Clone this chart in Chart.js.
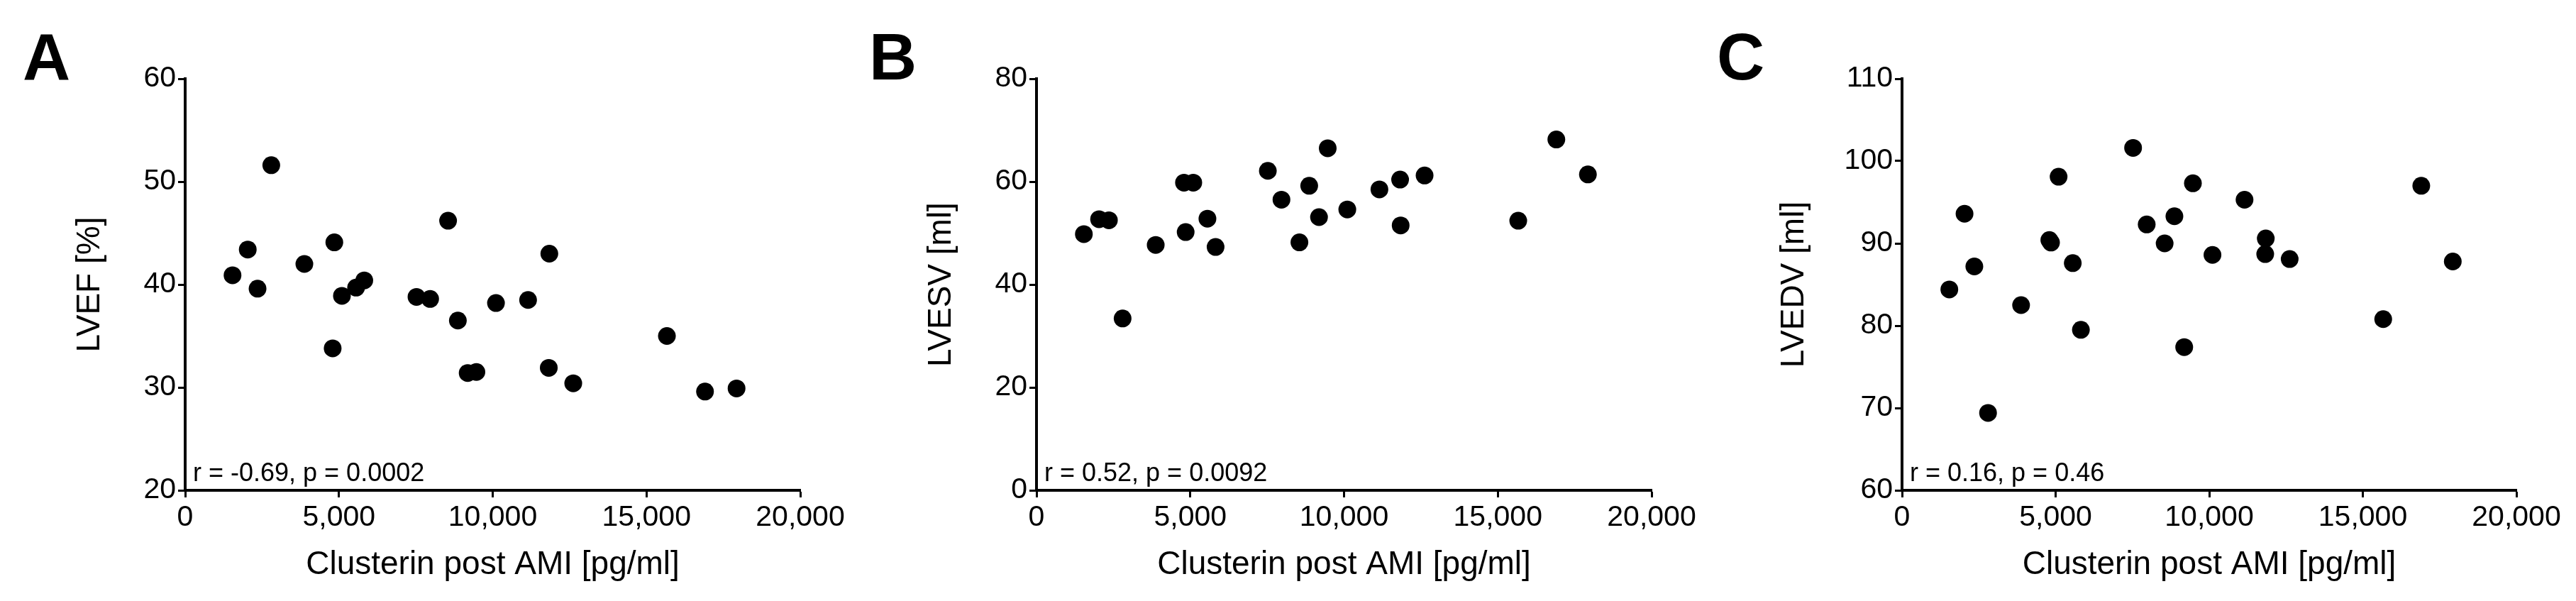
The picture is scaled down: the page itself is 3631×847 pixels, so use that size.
<!DOCTYPE html>
<html>
<head>
<meta charset="utf-8">
<script src="https://cdn.jsdelivr.net/npm/chart.js@4/dist/chart.umd.min.js"></script>
<style>
  html, body { margin: 0; padding: 0; background: #fff; }
  body { width: 3631px; height: 847px; position: relative; overflow: hidden; }
  canvas { position: absolute; top: 0; }
</style>
</head>
<body>
<canvas id="chartA" width="1200" height="847" style="left:0px"></canvas>
<canvas id="chartB" width="1200" height="847" style="left:1200px"></canvas>
<canvas id="chartC" width="1211" height="847" style="left:2420px"></canvas>
<script>
// clusterin post AMI [pg/ml], same patients in every panel
const clusterin = [1540, 2035, 2354, 2800, 3876, 4796, 4850, 5097, 5558, 5823,
  7522, 7965, 8549, 8867, 9186, 9469, 10106, 11150, 11823, 11841, 12619, 15664, 16903, 17929];

const lvef = [40.9, 43.4, 39.6, 51.6, 42.0, 33.8, 44.1, 38.9, 39.7, 40.4,
  38.8, 38.6, 46.2, 36.5, 31.4, 31.5, 38.2, 38.5, 31.9, 43.0, 30.4, 35.0, 29.6, 29.9];

const lvesv = [49.8, 52.7, 52.5, 33.4, 47.7, 59.8, 50.2, 59.8, 52.8, 47.3,
  62.1, 56.5, 48.2, 59.2, 53.1, 66.5, 54.6, 58.5, 60.4, 51.5, 61.2, 52.4, 68.2, 61.4];

const lvedv = [84.4, 93.6, 87.2, 69.4, 82.5, 90.4, 90.1, 98.1, 87.6, 79.5,
  101.6, 92.3, 90.0, 93.3, 77.4, 97.3, 88.6, 95.3, 88.7, 90.6, 88.1, 80.8, 97.0, 87.8];

const xTickLabels = ["0", "5,000", "10,000", "15,000", "20,000"];
const panelLetters = ["A", "B", "C"];
const yTitles = ["LVEF [%]", "LVESV [ml]", "LVEDV [ml]"];
const statTexts = ["r = -0.69, p = 0.0002", "r = 0.52, p = 0.0092", "r = 0.16, p = 0.46"];
const yRanges = [[20, 60, 10], [0, 80, 20], [60, 110, 10]];

const FONT = "'Liberation Sans', Arial, Helvetica, sans-serif";

// panel letter + r/p annotation
const annotate = {
  id: "annotate",
  afterDraw(chart, args, opts) {
    const ctx = chart.ctx;
    const area = chart.chartArea;
    ctx.save();
    ctx.fillStyle = "#000";
    ctx.textAlign = "left";
    ctx.textBaseline = "alphabetic";
    ctx.font = "36px " + FONT;
    ctx.fillText(opts.stat, area.left + 11, area.bottom - 13);
    ctx.font = "bold 93px " + FONT;
    ctx.fillText(opts.letter, opts.letterX, 112);
    ctx.restore();
  },
};

function makePanel(id, i, yData, rightPad, titlePad, letterX) {
  const points = clusterin.map((x, k) => ({ x: x, y: yData[k] }));
  const [yMin, yMax, yStep] = yRanges[i];
  return new Chart(document.getElementById(id), {
    type: "scatter",
    data: {
      datasets: [{
        data: points,
        backgroundColor: "#000",
        borderWidth: 0,
        pointRadius: 12.5,
        pointHoverRadius: 12.5,
      }],
    },
    options: {
      responsive: false,
      animation: false,
      events: [],
      layout: { padding: { left: 0, right: rightPad, top: 111, bottom: 0 } },
      plugins: {
        legend: { display: false },
        tooltip: { enabled: false },
        annotate: { stat: statTexts[i], letter: panelLetters[i], letterX: letterX },
      },
      scales: {
        x: {
          type: "linear",
          min: 0,
          max: 20000,
          afterFit: (s) => { s.height = 156; },
          ticks: {
            stepSize: 5000,
            padding: 8,
            color: "#000",
            maxRotation: 0,
            font: { family: FONT, size: 41, lineHeight: 1 },
            callback: (v, idx) => xTickLabels[idx],
          },
          grid: { drawOnChartArea: false, tickLength: 10, tickWidth: 3, tickColor: "#000" },
          border: { width: 4, color: "#000" },
          title: {
            display: true,
            text: "Clusterin post AMI [pg/ml]",
            color: "#000",
            font: { family: FONT, size: 46, lineHeight: 1 },
            padding: { top: 0, bottom: 28 },
          },
        },
        y: {
          min: yMin,
          max: yMax,
          afterFit: (s) => { s.width = 261; },
          ticks: {
            stepSize: yStep,
            padding: 3,
            color: "#000",
            font: { family: FONT, size: 41, lineHeight: 1 },
          },
          grid: { drawOnChartArea: false, tickLength: 10, tickWidth: 3, tickColor: "#000" },
          border: { width: 4, color: "#000" },
          title: {
            display: true,
            text: yTitles[i],
            color: "#000",
            font: { family: FONT, size: 46, lineHeight: 1 },
            padding: { top: titlePad, bottom: 0 },
          },
        },
      },
    },
    plugins: [annotate],
  });
}

makePanel("chartA", 0, lvef, 72, 104, 32);
makePanel("chartB", 1, lvesv, 72, 104, 25);
makePanel("chartC", 2, lvedv, 84, 86, 0);
</script>
</body>
</html>
